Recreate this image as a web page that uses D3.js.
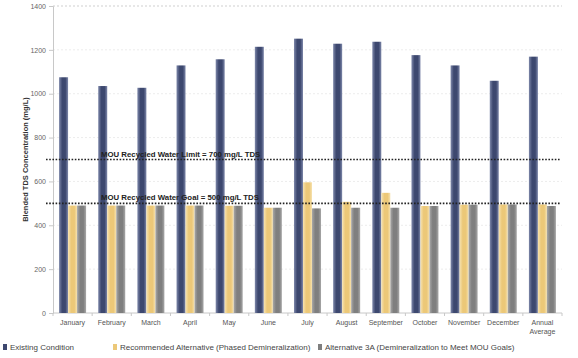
<!DOCTYPE html>
<html>
<head>
<meta charset="utf-8">
<script src="https://cdn.jsdelivr.net/npm/d3@7"></script>
<style>
  html, body { margin: 0; padding: 0; background: #fff; }
  svg { display: block; font-family: "Liberation Sans", Arial, sans-serif; }
</style>
</head>
<body>
<svg id="chart" width="578" height="358"></svg>
<script>
// Monthly blended TDS concentration (mg/L) for three scenarios
const categories = ["January", "February", "March", "April", "May", "June", "July",
  "August", "September", "October", "November", "December", "Annual Average"];
const existingCondition = [1075, 1035, 1027, 1129, 1157, 1214, 1251, 1228, 1237, 1176, 1129, 1059, 1169];
const recommendedAlt    = [490, 490, 490, 490, 489, 480, 596, 507, 548, 488, 494, 495, 495];
const alternative3A     = [490, 490, 490, 490, 489, 480, 477, 480, 480, 488, 494, 495, 488];
const seriesNames = ["Existing Condition", "Recommended Alternative (Phased Demineralization)",
  "Alternative 3A (Demineralization to Meet MOU Goals)"];
const yTicks = [0, 200, 400, 600, 800, 1000, 1200, 1400];
const refLines = [
  { value: 700, label: "MOU Recycled Water Limit = 700 mg/L TDS" },
  { value: 500, label: "MOU Recycled Water Goal = 500 mg/L TDS" }
];

const seriesData = [existingCondition, recommendedAlt, alternative3A];
const colors = [
  { edge: "#7e88aa", mid: "#3d486f" },
  { edge: "#f6e2b0", mid: "#ecc878" },
  { edge: "#a8a8a8", mid: "#7f7f7f" }
];

const svg = d3.select("#chart");
const plot = { left: 53, right: 562, top: 6, bottom: 313 };

const x = d3.scaleBand().domain(categories).range([plot.left, plot.right])
  .paddingInner(0.31).paddingOuter(0.155);
const xs = d3.scaleBand().domain(d3.range(3)).range([0, x.bandwidth()]);
const y = d3.scaleLinear().domain([0, 1400]).range([plot.bottom, plot.top]);

// horizontal gradients give the bars their shaded, cylindrical look
const defs = svg.append("defs");
colors.forEach((c, i) => {
  const g = defs.append("linearGradient").attr("id", "grad" + i)
    .attr("x1", "0%").attr("x2", "100%").attr("y1", "0%").attr("y2", "0%");
  g.append("stop").attr("offset", "0%").attr("stop-color", c.edge);
  g.append("stop").attr("offset", "35%").attr("stop-color", c.mid);
  g.append("stop").attr("offset", "70%").attr("stop-color", c.mid);
  g.append("stop").attr("offset", "100%").attr("stop-color", c.edge);
});

// gridlines
svg.append("g").selectAll("line").data(yTicks.filter(t => t > 0)).join("line")
  .attr("x1", plot.left).attr("x2", plot.right)
  .attr("y1", d => y(d)).attr("y2", d => y(d))
  .attr("stroke", d => d === 1400 ? "#cfcfcf" : "#ececec")
  .attr("stroke-dasharray", "2,2");

// y axis
const yAxis = svg.append("g").attr("transform", `translate(${plot.left},0)`)
  .call(d3.axisLeft(y).tickValues(yTicks).tickFormat(d3.format("d")).tickSize(4).tickPadding(3));
yAxis.select(".domain").attr("stroke", "#c8c8c8");
yAxis.selectAll(".tick line").attr("stroke", "#c8c8c8");
yAxis.selectAll("text").attr("fill", "#666").style("font-size", "7px")
  .style("font-family", "'Liberation Sans', Arial, sans-serif");

// x axis with ticks between categories
const xAxis = svg.append("g").attr("transform", `translate(0,${plot.bottom})`);
xAxis.append("line").attr("x1", plot.left).attr("x2", plot.right)
  .attr("stroke", "#c8c8c8");
const step = x.step();
xAxis.selectAll("line.tk").data(d3.range(categories.length + 1)).join("line")
  .attr("class", "tk")
  .attr("x1", i => plot.left + i * step).attr("x2", i => plot.left + i * step)
  .attr("y1", 0).attr("y2", 3).attr("stroke", "#c8c8c8");
xAxis.selectAll("text").data(categories).join("text")
  .attr("x", d => x(d) + x.bandwidth() / 2)
  .attr("y", 12)
  .attr("text-anchor", "middle")
  .attr("fill", "#555")
  .style("font-size", "7px")
  .each(function (d) {
    const words = d === "Annual Average" ? ["Annual", "Average"] : [d];
    d3.select(this).selectAll("tspan").data(words).join("tspan")
      .attr("x", x(d) + x.bandwidth() / 2)
      .attr("dy", (w, i) => i === 0 ? 0 : 9)
      .text(w => w);
  });

// bars
const groups = svg.append("g").selectAll("g").data(categories).join("g")
  .attr("transform", d => `translate(${x(d)},0)`);
groups.selectAll("rect").data((d, ci) => seriesData.map((s, si) => ({ si, v: s[ci] })))
  .join("rect")
  .attr("x", d => xs(d.si))
  .attr("width", xs.bandwidth())
  .attr("y", d => y(d.v))
  .attr("height", d => y(0) - y(d.v))
  .attr("fill", d => `url(#grad${d.si})`);

// regulatory reference lines
refLines.forEach(r => {
  svg.append("line")
    .attr("x1", 46).attr("x2", 560)
    .attr("y1", y(r.value)).attr("y2", y(r.value))
    .attr("stroke", "#222").attr("stroke-width", 1.6)
    .attr("stroke-dasharray", "1.6,1.6");
  svg.append("text")
    .attr("x", 101).attr("y", y(r.value) - 3)
    .attr("fill", "#222")
    .style("font-size", "7.8px").style("font-weight", "bold")
    .text(r.label);
});

// y axis title
svg.append("text")
  .attr("transform", `translate(28,${(plot.top + plot.bottom) / 2}) rotate(-90)`)
  .attr("text-anchor", "middle")
  .attr("fill", "#333")
  .style("font-size", "7.5px").style("font-weight", "bold")
  .text("Blended TDS Concentration (mg/L)");

// legend
const legendX = [3, 113, 318];
const legend = svg.append("g").attr("transform", "translate(0,350)");
seriesNames.forEach((name, i) => {
  legend.append("rect").attr("x", legendX[i]).attr("y", -6)
    .attr("width", 4).attr("height", 6).attr("fill", colors[i].mid);
  legend.append("text").attr("x", legendX[i] + 7).attr("y", 0)
    .attr("fill", "#444").style("font-size", "8px").text(name);
});
</script>
</body>
</html>
